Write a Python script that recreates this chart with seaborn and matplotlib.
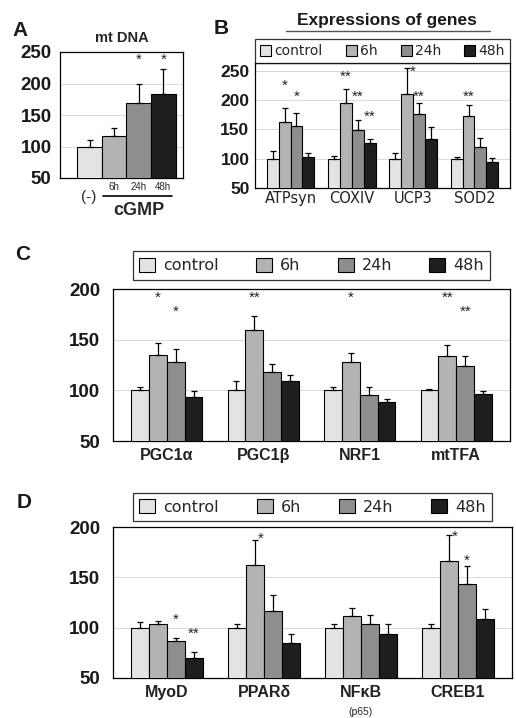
import numpy as np
import pandas as pd
import matplotlib
matplotlib.use("Agg")
import matplotlib.pyplot as plt
import matplotlib.transforms as mtransforms
from matplotlib.patches import Patch
import seaborn as sns

sns.set_style("white")
plt.rcParams["font.family"] = ["Liberation Sans", "DejaVu Sans"]

# ---------------- data ----------------
times = ["control", "6h", "24h", "48h"]
colors = ["#e3e3e3", "#b3b3b3", "#8e8e8e", "#1e1e1e"]

# Panel A : mt DNA
a_values = [100, 116, 169, 184]
a_errors = [10, 14, 31, 39]
a_stars = ["", "", "*", "*"]
a_star_y = [0, 0, 238, 238]

# Panel B : Expressions of genes
b_genes = ["ATPsyn", "COXIV", "UCP3", "SOD2"]
b_control = [100, 100, 100, 100]
b_6h = [162, 195, 211, 173]
b_24h = [156, 149, 176, 120]
b_48h = [102, 126, 134, 95]
b_err_control = [13, 4, 9, 2]
b_err_6h = [25, 24, 44, 18]
b_err_24h = [22, 17, 19, 16]
b_err_48h = [7, 8, 20, 6]
# (gene index, time index, label, y, placed right of the error bar?)
b_stars = [(0, 1, "*", 225, False), (0, 2, "*", 206, False),
           (1, 1, "**", 239, False), (1, 2, "**", 205, False),
           (1, 3, "**", 171, False),
           (2, 1, "*", 248, True), (2, 2, "**", 205, False),
           (3, 1, "**", 205, False)]

# Panel C
c_genes = ["PGC1α", "PGC1β", "NRF1", "mtTFA"]
c_control = [100, 100, 100, 100]
c_6h = [135, 160, 128, 134]
c_24h = [128, 118, 95, 124]
c_48h = [93, 109, 88, 96]
c_err_control = [3, 9, 3, 1]
c_err_6h = [12, 13, 9, 11]
c_err_24h = [13, 8, 8, 10]
c_err_48h = [6, 6, 3, 3]
c_stars = [(0, 1, "*", 191, False), (0, 2, "*", 178, False),
           (1, 1, "**", 191, False),
           (2, 1, "*", 191, False),
           (3, 1, "**", 191, False), (3, 2, "**", 178, False)]

# Panel D
d_genes = ["MyoD", "PPARδ", "NFκB", "CREB1"]
d_control = [100, 100, 100, 100]
d_6h = [104, 162, 112, 166]
d_24h = [87, 117, 104, 143]
d_48h = [70, 85, 94, 109]
d_err_control = [6, 4, 4, 4]
d_err_6h = [3, 25, 8, 26]
d_err_24h = [3, 15, 9, 18]
d_err_48h = [6, 9, 10, 10]
d_stars = [(0, 2, "*", 108, False), (0, 3, "**", 94, False),
           (1, 1, "*", 188, True),
           (3, 1, "*", 190, True), (3, 2, "*", 166, False)]


def long_df(genes, series):
    rows = []
    for t, vals in zip(times, series):
        for g, v in zip(genes, vals):
            rows.append({"gene": g, "time": t, "value": v})
    return pd.DataFrame(rows)


def draw_bars(ax, genes, series, errs, width):
    df = long_df(genes, series)
    sns.barplot(data=df, x="gene", y="value", hue="time", order=genes,
                hue_order=times, palette=colors, edgecolor="black",
                linewidth=0.8, width=width, errorbar=None, legend=False,
                ax=ax, zorder=3)
    centers = []
    for cont, e in zip(ax.containers, errs):
        xs = [b.get_x() + b.get_width() / 2 for b in cont]
        ys = [b.get_height() for b in cont]
        centers.append(xs)
        ax.errorbar(xs, ys, yerr=[np.zeros(len(e)), e], fmt="none",
                    ecolor="black", elinewidth=0.9, capsize=2.5,
                    capthick=0.9, zorder=4)
    return centers


def style_axes(ax, ylim, yticks, fs, pad=4):
    ax.set_ylim(*ylim)
    ax.set_yticks(yticks)
    ax.set_yticklabels([str(t) for t in yticks], fontsize=fs,
                       fontweight="bold", color="#1a1a1a")
    ax.yaxis.grid(True, color="#d4d4d4", lw=0.6, zorder=0)
    ax.tick_params(axis="y", direction="in", length=3, width=0.8, pad=pad)
    for s in ax.spines.values():
        s.set_color("black")
        s.set_linewidth(0.9)
    ax.set_xlabel("")
    ax.set_ylabel("")


def add_stars(ax, centers, stars):
    offset = mtransforms.ScaledTranslation(6 / 100, 0, ax.figure.dpi_scale_trans)
    for gi, ti, lab, y, right in stars:
        tr = ax.transData + offset if right else ax.transData
        ax.text(centers[ti][gi], y, lab, ha="center", va="center",
                fontsize=11, color="#222222", zorder=5, transform=tr)


def legend_handles():
    return [Patch(facecolor=c, edgecolor="black", lw=0.8) for c in colors]


fig = plt.figure(figsize=(5.16, 7.18), dpi=100)

# ---------------- Panel A ----------------
axA = fig.add_axes([60 / 516, 1 - 178 / 718, 123 / 516, 126 / 718])
dfA = pd.DataFrame({"g": ["cGMP"] * 4, "time": times, "value": a_values})
sns.barplot(data=dfA, x="g", y="value", hue="time", hue_order=times,
            palette=colors, edgecolor="black", linewidth=0.8, width=0.8,
            errorbar=None, legend=False, ax=axA, zorder=3)
a_x = [c[0].get_x() + c[0].get_width() / 2 for c in axA.containers]
axA.errorbar(a_x, a_values, yerr=[np.zeros(4), a_errors], fmt="none",
             ecolor="black", elinewidth=0.9, capsize=2.5, capthick=0.9,
             zorder=4)
for x, s, y in zip(a_x, a_stars, a_star_y):
    if s:
        axA.text(x, y, s, ha="center", va="center", fontsize=11, zorder=5)
style_axes(axA, (50, 250), [50, 100, 150, 200, 250], 13.5, pad=6)
axA.set_xlim(-0.54, 0.46)
axA.set_xticks([])
axA.set_title("mt DNA", fontsize=10.5, fontweight="bold", pad=7)
trA = mtransforms.blended_transform_factory(axA.transData, axA.transAxes)
axA.text(a_x[0] - 0.01, -0.15, "(-)", transform=trA, ha="center",
         va="center", fontsize=11, clip_on=False)
for x, lab in zip(a_x[1:], times[1:]):
    axA.text(x, -0.075, lab, transform=trA, ha="center", va="center",
             fontsize=7, clip_on=False)
axA.plot([a_x[1] - 0.09, a_x[3] + 0.07], [-0.14, -0.14], transform=trA,
         color="black", lw=1.2, clip_on=False)
axA.text((a_x[1] + a_x[3]) / 2, -0.26, "cGMP", transform=trA, ha="center",
         va="center", fontsize=13, fontweight="bold", clip_on=False)

# ---------------- Panel B ----------------
axB = fig.add_axes([255 / 516, 1 - 188 / 718, 255 / 516, 125 / 718])
cB = draw_bars(axB, b_genes, [b_control, b_6h, b_24h, b_48h],
               [b_err_control, b_err_6h, b_err_24h, b_err_48h], 0.78)
style_axes(axB, (50, 263), [50, 100, 150, 200, 250], 12.5)
add_stars(axB, cB, b_stars)
axB.tick_params(axis="x", length=0, pad=2)
axB.set_xticklabels(b_genes, fontsize=10.5, family="DejaVu Sans",
                    color="#222222")
axB.legend(legend_handles(), times, ncol=4, loc="lower left",
           bbox_to_anchor=(0, 1.0, 1, 0.2), mode="expand", borderaxespad=0,
           frameon=True, fancybox=False, edgecolor="black",
           handlelength=0.8, handleheight=0.8, handletextpad=0.25,
           columnspacing=0.4, borderpad=0.35,
           prop={"family": "DejaVu Sans", "size": 10})
axB.get_legend().get_frame().set_linewidth(0.9)
fig.text(387 / 516, 1 - 20 / 718, "Expressions of genes", ha="center",
         va="center", fontsize=12.5, fontweight="bold", color="#1a1a1a")
fig.add_artist(plt.Line2D([286 / 516, 490 / 516], [1 - 31 / 718, 1 - 31 / 718],
                          color="#555555", lw=1))

# ---------------- Panel C ----------------
axC = fig.add_axes([113 / 516, 1 - 441 / 718, 397 / 516, 152 / 718])
cC = draw_bars(axC, c_genes, [c_control, c_6h, c_24h, c_48h],
               [c_err_control, c_err_6h, c_err_24h, c_err_48h], 0.74)
style_axes(axC, (50, 200), [50, 100, 150, 200], 13.5, pad=9)
add_stars(axC, cC, c_stars)
axC.set_xticks([0.5, 1.5, 2.5], minor=True)
axC.tick_params(axis="x", which="minor", length=3, direction="out")
axC.tick_params(axis="x", which="major", length=0, pad=5)
axC.set_xticklabels(c_genes, fontsize=11.5, fontweight="bold",
                    color="#222222")
legC = axC.legend(legend_handles(), times, ncol=4, loc="lower left",
                  bbox_to_anchor=(0.05, 1.06, 0.9, 0.2), mode="expand",
                  borderaxespad=0, frameon=True, fancybox=False,
                  edgecolor="black", handlelength=1.0, handleheight=1.0,
                  handletextpad=0.5, columnspacing=1.2, borderpad=0.4,
                  prop={"family": "DejaVu Sans", "size": 11.5})
legC.get_frame().set_linewidth(0.9)

# ---------------- Panel D ----------------
axD = fig.add_axes([113 / 516, 1 - 678 / 718, 399 / 516, 151 / 718])
cD = draw_bars(axD, d_genes, [d_control, d_6h, d_24h, d_48h],
               [d_err_control, d_err_6h, d_err_24h, d_err_48h], 0.74)
style_axes(axD, (50, 200), [50, 100, 150, 200], 13.5, pad=9)
add_stars(axD, cD, d_stars)
axD.set_xticks([0.5, 1.5, 2.5], minor=True)
axD.tick_params(axis="x", which="minor", length=3, direction="out")
axD.tick_params(axis="x", which="major", length=0, pad=5)
axD.set_xticklabels(d_genes, fontsize=11.5, fontweight="bold",
                    color="#222222")
trD = mtransforms.blended_transform_factory(axD.transData, axD.transAxes)
axD.text(axD.get_xticks()[2], -0.225, "(p65)", transform=trD, ha="center",
         va="center", fontsize=7.5, clip_on=False)
legD = axD.legend(legend_handles(), times, ncol=4, loc="lower left",
                  bbox_to_anchor=(0.05, 1.04, 0.9, 0.2), mode="expand",
                  borderaxespad=0, frameon=True, fancybox=False,
                  edgecolor="black", handlelength=1.0, handleheight=1.0,
                  handletextpad=0.5, columnspacing=1.2, borderpad=0.4,
                  prop={"family": "DejaVu Sans", "size": 11.5})
legD.get_frame().set_linewidth(0.9)

# panel letters
for lab, x, y in [("A", 12, 30), ("B", 214, 28), ("C", 15, 255), ("D", 17, 503)]:
    fig.text(x / 516, 1 - y / 718, lab, fontsize=15, fontweight="bold",
             ha="left", va="center", color="#1a1a1a")

fig.savefig("out.png", dpi=100)
